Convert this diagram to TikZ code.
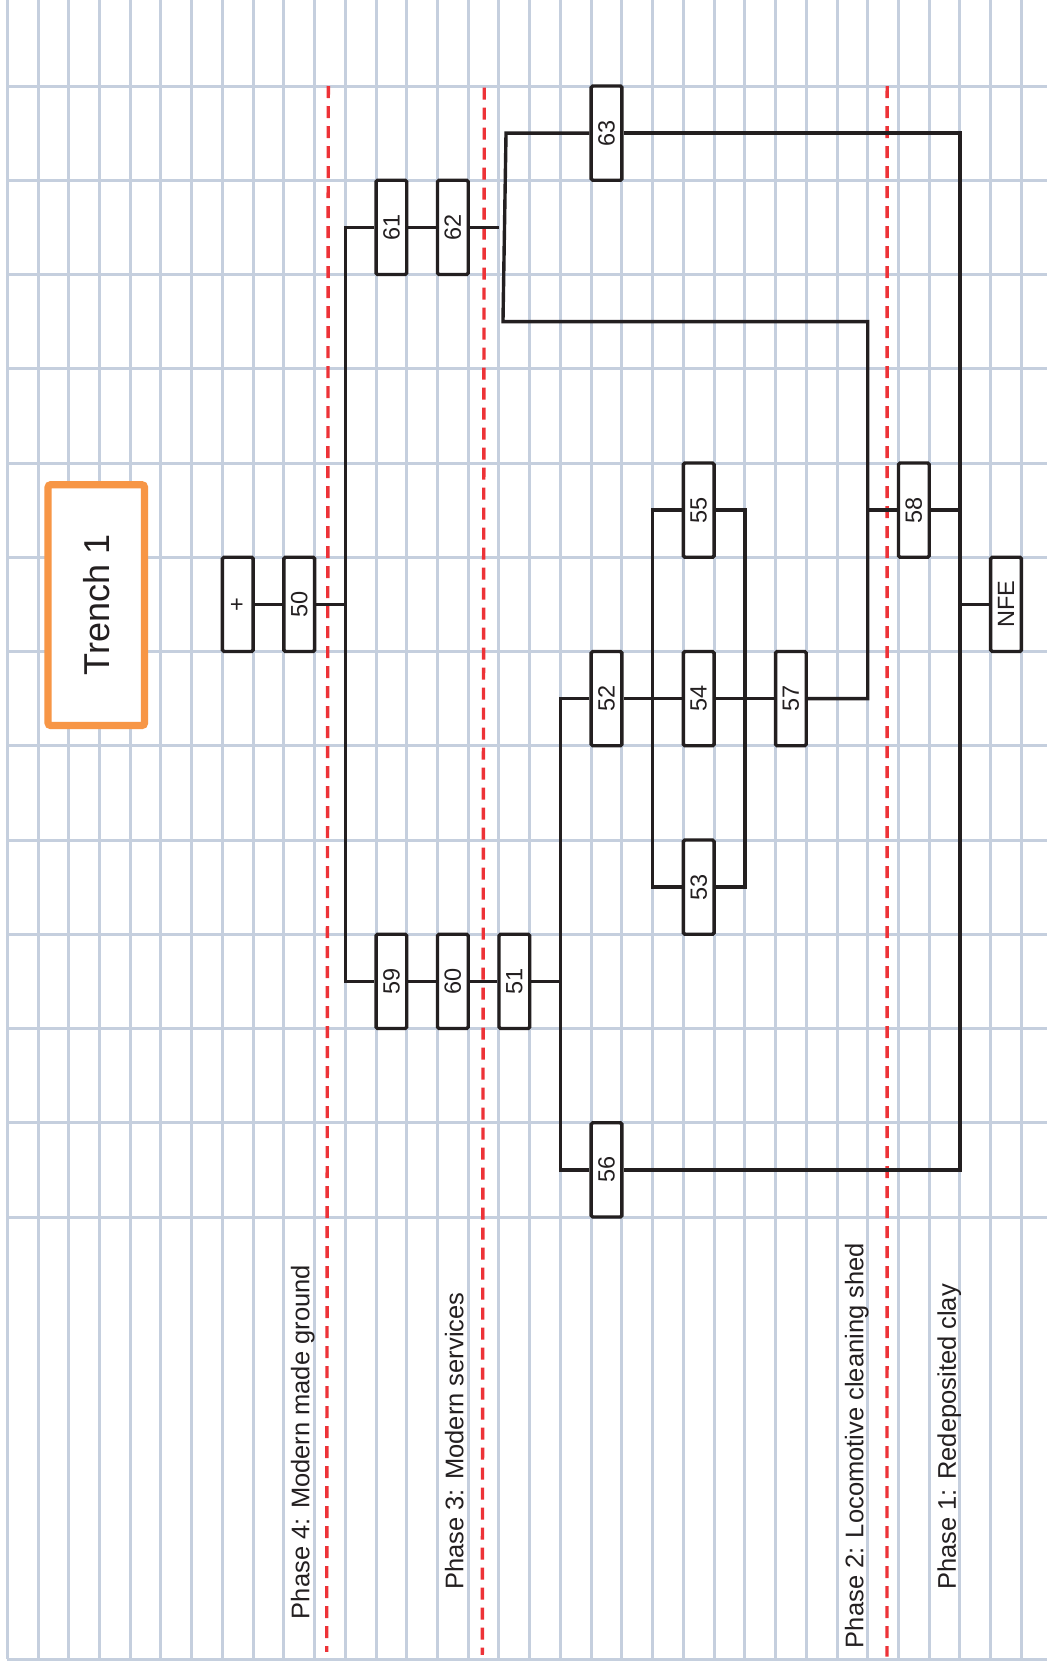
\documentclass[tikz,border=0pt]{standalone}
\usepackage{fontspec}
\setmainfont{Liberation Sans}
\usepackage{graphicx}
\usetikzlibrary{positioning}
\definecolor{gridblue}{RGB}{197,207,222}
\definecolor{phasered}{RGB}{237,50,55}
\definecolor{trenchorange}{RGB}{247,150,70}
\definecolor{inkline}{RGB}{35,31,32}

\begin{document}
\begin{tikzpicture}[
    x=30.73pt, y=-94.25pt,
    gridline/.style={gridblue, line width=3pt},
    phasedash/.style={phasered, line width=3.4pt, dash pattern=on 12pt off 8pt},
    ctx/.style={draw=inkline, fill=white, line width=3.4pt, rounded corners=1.5pt,
        minimum width=30.73pt, minimum height=94.25pt, inner sep=0pt,
        text=inkline, font=\fontsize{23.5}{28}\selectfont},
    link/.style={inkline, line width=3.4pt},
    lbl/.style={rotate=90, anchor=base west, inner sep=0pt, text=inkline,
        font=\fontsize{25.5}{30}\selectfont}
]
\fill[white] (-0.23755,-0.91247) rectangle (33.8334,16.7958);
\useasboundingbox (-0.23755,-0.91247) rectangle (33.8334,16.7958);

% Grid
\foreach \k in {0,...,33}
    \draw[gridline] (\k,-0.91247) -- (\k,16.693);
\foreach \r in {0,...,12}
    \draw[gridline] (0,\r) -- (33.8334,\r);
\draw[gridline] (0,16.693) -- (33.8334,16.693);

% Phase boundaries
\draw[phasedash] (10.446,0) -- (10.394,16.615);
\draw[phasedash] (15.522,0.018) -- (15.457,16.647);
\draw[phasedash] (28.633,0) -- (28.627,16.665);

% Phase labels
\node[lbl] (ph4) at (9.828,16.268) {Phase 4: Modern made ground};
\node[lbl] (ph3) at (14.84,15.957) {Phase 3: Modern services};
\node[lbl] (ph2) at (27.86,16.576) {Phase 2: Locomotive cleaning shed};
\node[lbl] (ph1) at (30.87,15.957) {Phase 1: Redeposited clay};

% Title
\node[draw=trenchorange, line width=7.3pt, rounded corners=3pt, fill=white,
    minimum width=96.6pt, minimum height=240.9pt, inner sep=0pt, text=inkline,
    font=\fontsize{36}{40}\selectfont] (trench) at (2.896,5.508) {\rotatebox{90}{Trench 1}};

% Contexts
\node[ctx] (cplus) at (7.5,5.5) {\rotatebox{90}{+}};
\node[ctx] (c50) at (9.5,5.5) {\rotatebox{90}{50}};
\node[ctx] (c61) at (12.5,1.5) {\rotatebox{90}{61}};
\node[ctx] (c62) at (14.5,1.5) {\rotatebox{90}{62}};
\node[ctx] (c59) at (12.5,9.5) {\rotatebox{90}{59}};
\node[ctx] (c60) at (14.5,9.5) {\rotatebox{90}{60}};
\node[ctx] (c51) at (16.5,9.5) {\rotatebox{90}{51}};
\node[ctx] (c63) at (19.5,0.5) {\rotatebox{90}{63}};
\node[ctx] (c52) at (19.5,6.5) {\rotatebox{90}{52}};
\node[ctx] (c56) at (19.5,11.5) {\rotatebox{90}{56}};
\node[ctx] (c55) at (22.5,4.5) {\rotatebox{90}{55}};
\node[ctx] (c54) at (22.5,6.5) {\rotatebox{90}{54}};
\node[ctx] (c53) at (22.5,8.5) {\rotatebox{90}{53}};
\node[ctx] (c57) at (25.5,6.5) {\rotatebox{90}{57}};
\node[ctx] (c58) at (29.5,4.5) {\rotatebox{90}{58}};
\node[ctx] (cnfe) at (32.5,5.5) {\rotatebox{90}{NFE}};

% Junctions
\coordinate (j50) at (11,5.5);
\coordinate (j11a) at (11,1.5);
\coordinate (j11b) at (11,9.5);
\coordinate (e62) at (16,1.5);
\coordinate (b1) at (16.229,0.5);
\coordinate (b2) at (16.13,2.5);
\coordinate (j18a) at (18,6.5);
\coordinate (j18m) at (18,9.5);
\coordinate (j18b) at (18,11.5);
\coordinate (j21a) at (21,4.5);
\coordinate (j21b) at (21,8.5);
\coordinate (j24a) at (24,4.5);
\coordinate (j24b) at (24,8.5);
\coordinate (j28a) at (28,2.5);
\coordinate (j28m) at (28,4.5);
\coordinate (j28b) at (28,6.5);
\coordinate (j31a) at (31,0.5);
\coordinate (j31m) at (31,4.5);
\coordinate (j31n) at (31,5.5);
\coordinate (j31b) at (31,11.5);

% Links
\draw[link] (cplus) -- (c50);
\draw[link] (c50) -- (j50);
\draw[link] (c61) -- (j11a) -- (j11b) -- (c59);
\draw[link] (c61) -- (c62);
\draw[link] (c62) -- (e62);
\draw[link] (c59) -- (c60);
\draw[link] (c60) -- (c51);
\draw[link] (c51) -- (j18m);
\draw[link] (c63) -- (b1) -- (b2) -- (j28a) -- (j28b) -- (c57);
\draw[link] (c63) -- (j31a) -- (j31b) -- (c56);
\draw[link] (c57) -- (c54);
\draw[link] (c54) -- (c52);
\draw[link] (c52) -- (j18a) -- (j18b) -- (c56);
\draw[link] (c55) -- (j21a) -- (j21b) -- (c53);
\draw[link] (c55) -- (j24a) -- (j24b) -- (c53);
\draw[link] (c58) -- (j28m);
\draw[link] (c58) -- (j31m);
\draw[link] (cnfe) -- (j31n);
\end{tikzpicture}
\end{document}
